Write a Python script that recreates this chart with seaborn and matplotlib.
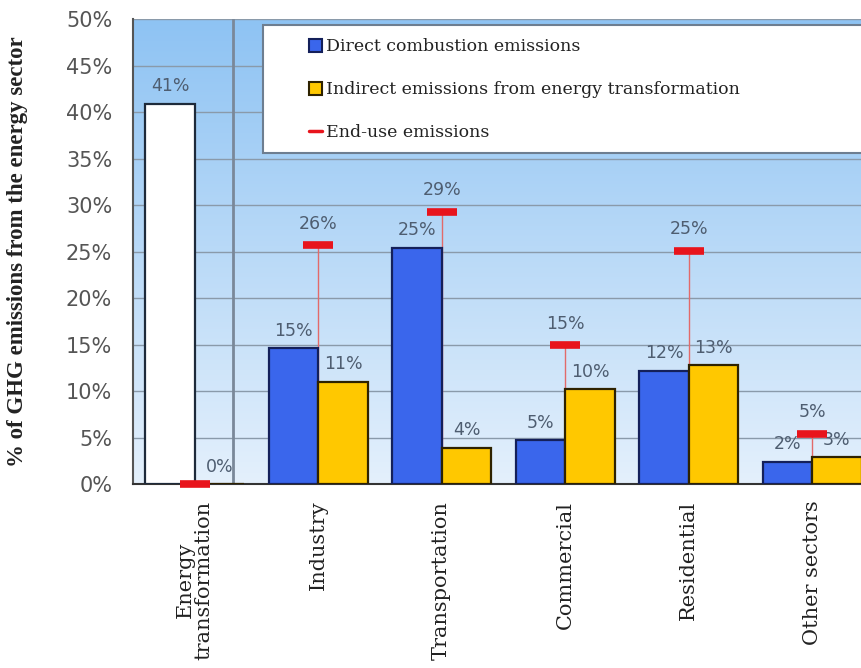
import numpy as np
import pandas as pd
import matplotlib.pyplot as plt
import matplotlib.patches as mpatches
from matplotlib.colors import LinearSegmentedColormap
from matplotlib.lines import Line2D
import seaborn as sns

# --- data ---
sectors = ['Energy\ntransformation', 'Industry', 'Transportation',
           'Commercial', 'Residential', 'Other sectors']
direct = [40.9, 14.6, 25.4, 4.7, 12.2, 2.4]
indirect = [0.0, 11.0, 3.9, 10.2, 12.8, 2.9]
end_use = [0.0, 25.7, 29.3, 14.9, 25.1, 5.4]
series_names = ['Direct combustion emissions',
                'Indirect emissions from energy transformation']

df = pd.DataFrame({
    'sector': sectors * 2,
    'series': [series_names[0]] * len(sectors) + [series_names[1]] * len(sectors),
    'value': direct + indirect,
})

blue = '#3a66ec'
yellow = '#ffc800'
red = '#e8141c'
label_col = '#4e5d70'

sns.set_style('white')
plt.rcParams['font.family'] = ['DejaVu Sans']

fig = plt.figure(figsize=(8.62, 6.68), dpi=100)
ax = fig.add_axes([0.1543, 0.2754, 0.8596, 0.6961])

# gradient background of the plot area
grad = np.linspace(0, 1, 256).reshape(-1, 1)
cmap = LinearSegmentedColormap.from_list('bg', ['#e4f0fc', '#8ec3f3'])
ax.imshow(grad, extent=(0, 1, 0, 1), transform=ax.transAxes, cmap=cmap,
          origin='lower', aspect='auto', zorder=0)

sns.barplot(data=df, x='sector', y='value', hue='series', order=sectors,
            hue_order=series_names, palette=[blue, yellow], width=0.8,
            saturation=1, ax=ax, legend=False, zorder=3)

for p in ax.containers[0]:
    p.set_edgecolor('#14205a')
    p.set_linewidth(1.6)
for p in ax.containers[1]:
    p.set_edgecolor('#2e2200')
    p.set_linewidth(1.6)
ax.containers[0][0].set_facecolor('white')
ax.containers[0][0].set_edgecolor('#1e2a3a')

ax.bar_label(ax.containers[0], labels=[f'{v:.0f}%' for v in direct],
             padding=6, color=label_col, fontsize=12.5)
ax.bar_label(ax.containers[1], labels=[f'{v:.0f}%' for v in indirect],
             padding=6, color=label_col, fontsize=12.5)

# end-use markers with thin stems
xpos = np.arange(len(sectors))
ax.vlines(xpos, 0, end_use, color='#e26a6a', lw=1, zorder=2)
ax.plot(xpos, end_use, ls='none', marker='_', ms=22, mew=5.5, color=red,
        zorder=5, clip_on=False)
for x, v in zip(xpos, end_use):
    if v > 0:
        ax.annotate(f'{v:.0f}%', (x, v), xytext=(0, 9), textcoords='offset points',
                    ha='center', va='bottom', color=label_col, fontsize=12.5)

# separator line
ax.axvline(0.31, color='#7a8899', lw=2, zorder=1)

ax.set_ylim(0, 50)
ax.set_xlim(-0.5, 5.5)
ax.set_yticks(np.arange(0, 51, 5))
ax.set_yticklabels([f'{t}%' for t in range(0, 51, 5)], fontsize=15, color='#555555')
ax.yaxis.grid(True, color='#8a9aaa', lw=1)
ax.set_axisbelow(True)

ax.set_xticks(xpos)
ax.set_xticklabels(sectors, rotation=90, fontsize=15, family='DejaVu Serif',
                   color='#222222', linespacing=1.0)
ax.set_xticks(np.arange(-0.5, 6, 1), minor=True)
ax.tick_params(axis='x', which='major', length=0, pad=12)
ax.tick_params(axis='x', which='minor', length=7, color='#555555', direction='out')
ax.tick_params(axis='y', length=7, color='#555555', direction='out', pad=8)
ax.set_xlabel('')
ax.set_ylabel('% of GHG emissions from the energy sector', fontsize=16.5,
              family='Liberation Serif', fontweight='bold', color='#222222')
ax.yaxis.set_label_coords(-0.142, 0.5)

for s in ['top', 'right']:
    ax.spines[s].set_visible(False)
ax.spines['left'].set_color('#555555')
ax.spines['left'].set_linewidth(1.5)
ax.spines['bottom'].set_color('#333333')
ax.spines['bottom'].set_linewidth(1.5)

# legend box
box = mpatches.Rectangle((0.1754, 0.712), 0.9, 0.275, transform=ax.transAxes,
                         facecolor='white', edgecolor='#6e7e90', lw=1.5, zorder=6)
ax.add_patch(box)
handles = [
    mpatches.Patch(facecolor=blue, edgecolor='#14205a', lw=1.5, label=series_names[0]),
    mpatches.Patch(facecolor=yellow, edgecolor='#2e2200', lw=1.5, label=series_names[1]),
    Line2D([], [], color=red, lw=2.5, label='End-use emissions'),
]
leg = ax.legend(handles=handles, loc='upper left', bbox_to_anchor=(0.2254, 0.977),
                frameon=False, prop={'family': 'DejaVu Serif', 'size': 12.5},
                handlelength=0.75, handleheight=0.75, handletextpad=0.25,
                labelspacing=1.5, borderpad=0, labelcolor='#222222')
leg.set_zorder(7)

fig.savefig('out.png', dpi=100)
